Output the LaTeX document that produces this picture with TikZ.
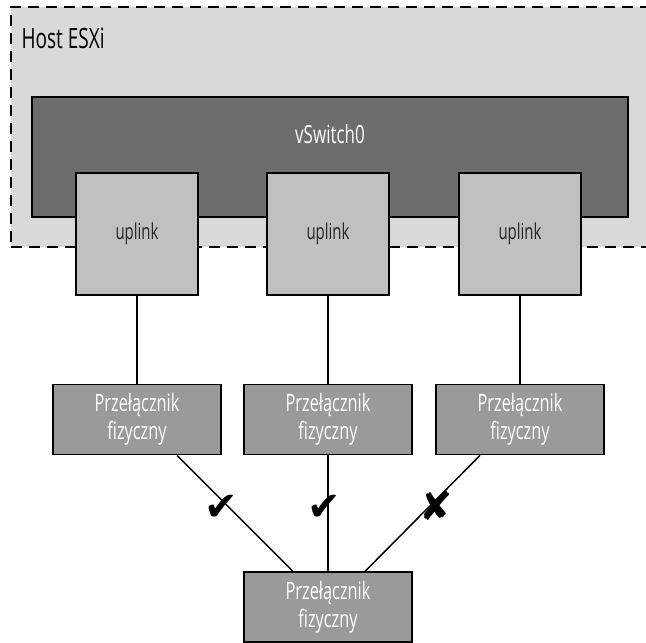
\documentclass[tikz,border=0pt]{standalone}
\usepackage{fontspec}
\setmainfont{Open Sans}[FakeStretch=0.68]
\newfontfamily\symfont{DejaVu Sans}
\usepackage{tikz}
\usetikzlibrary{positioning, calc}
\definecolor{hostgray}{HTML}{D9D9D9}
\definecolor{vswgray}{HTML}{6D6D6D}
\definecolor{upgray}{HTML}{C0C0C0}
\definecolor{swgray}{HTML}{9A9A9A}
\tikzstyle{hostbox} = [rectangle, draw, line width=1.6pt, dash pattern=on 11pt off 7pt, fill=hostgray]
\tikzstyle{vswbox} = [rectangle, draw, line width=1.6pt, fill=vswgray]
\tikzstyle{upbox} = [rectangle, draw, line width=1.6pt, fill=upgray, minimum width=122pt, minimum height=122pt, text=black!85, font=\fontsize{22}{24}\selectfont]
\tikzstyle{swbox} = [rectangle, draw, line width=1.6pt, fill=swgray, minimum width=168pt, minimum height=70pt, text=white, align=center, font=\fontsize{24}{28}\selectfont]
\tikzstyle{link} = [line width=1.5pt]
\tikzstyle{tick} = [font=\symfont\fontsize{40}{40}\selectfont]

\begin{document}
\begin{tikzpicture}[x=1pt, y=-1pt, node distance=88pt]
    \useasboundingbox (0,0) rectangle (646,643);
    \node (host) [hostbox, minimum width=641pt, minimum height=240pt] at (331.5,127) {};
    \node (hostlabel) [anchor=west, font=\fontsize{28}{30}\selectfont] at (18,38) {Host ESXi};
    \node (vsw) [vswbox, minimum width=596pt, minimum height=120pt] at (330,157) {};
    \node (vswlabel) [text=white, font=\fontsize{25}{28}\selectfont] at (330,134) {vSwitch0};

    \node (up1) [upbox] at (137,234) {uplink};
    \node (up2) [upbox] at (328,234) {uplink};
    \node (up3) [upbox] at (520,234) {uplink};

    \node (sw1) [swbox, below=of up1] {Przełącznik\\fizyczny};
    \node (sw2) [swbox, below=of up2] {Przełącznik\\fizyczny};
    \node (sw3) [swbox, below=of up3] {Przełącznik\\fizyczny};
    \node (swb) [swbox, below=116pt of sw2] {Przełącznik\\fizyczny};

    \draw[link] (up1) -- (sw1);
    \draw[link] (up2) -- (sw2);
    \draw[link] (up3) -- (sw3);

    \draw[link] ([xshift=40pt]sw1.south) -- node[tick, pos=0.45, xshift=-8pt] {✔} ([xshift=-35pt]swb.north);
    \draw[link] (sw2) -- node[tick, pos=0.45, xshift=-4pt] {✔} (swb);
    \draw[link] ([xshift=-40pt]sw3.south) -- node[tick, pos=0.43, xshift=6pt] {✘} ([xshift=37pt]swb.north);
\end{tikzpicture}
\end{document}
